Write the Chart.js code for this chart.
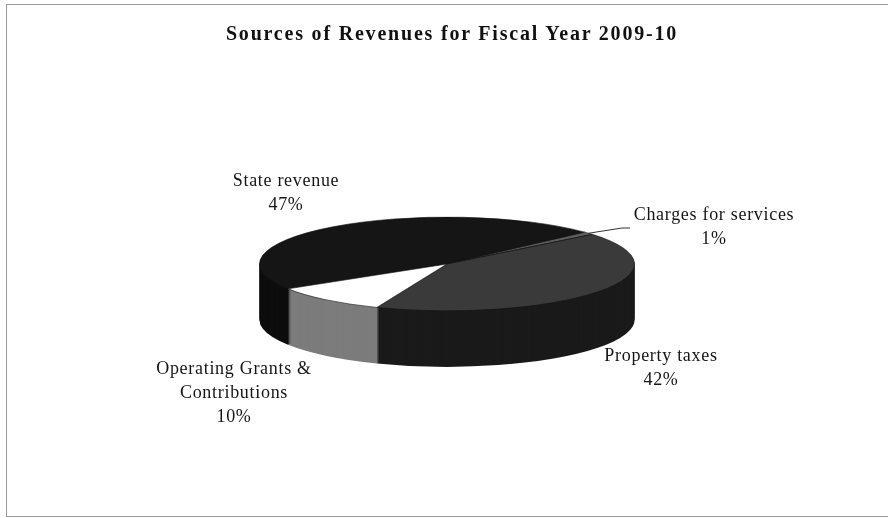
<!DOCTYPE html>
<html>
<head>
    <meta charset="UTF-8">
    <title>Sources of Revenues for Fiscal Year 2009-10</title>
    <script src="https://cdn.jsdelivr.net/npm/chart.js"></script>
    <style>
        body {
            margin: 0;
            background: #ffffff;
            font-family: 'Liberation Serif', 'DejaVu Serif', serif;
        }

        .wrap {
            position: relative;
            width: 888px;
            height: 518px;
            overflow: hidden;
        }

        /* scanned frame, right edge is cut off */
        .frame {
            position: absolute;
            left: 6px;
            top: 4px;
            width: 900px;
            height: 511px;
            border: 1px solid #9a9a9a;
        }

        canvas {
            position: absolute;
            left: 0;
            top: 0;
        }

        .title {
            position: absolute;
            left: 0;
            width: 904px;
            top: 22px;
            text-align: center;
            font-weight: bold;
            font-size: 20px;
            letter-spacing: 1.8px;
            color: #111;
        }

        .lbl {
            position: absolute;
            text-align: center;
            font-size: 18px;
            letter-spacing: 0.7px;
            line-height: 24px;
            color: #151515;
            white-space: nowrap;
            transform: translateX(-50%);
        }
    </style>
</head>
<body>
    <div class="wrap">
        <div class="frame"></div>
        <canvas id="revChart" width="888" height="518"></canvas>
        <div class="title">Sources of Revenues for Fiscal Year 2009-10</div>
        <div id="labels"></div>
    </div>

    <script>
        // data
        var categories = ['State revenue', 'Charges for services', 'Property taxes', 'Operating Grants &\nContributions'];
        var shares = [47, 1, 42, 10];
        var topColors = ['#151515', '#5c5c5c', '#3a3a3a', '#ffffff'];
        var sideColors = ['#0d0d0d', '#1e1e1e', '#1a1a1a', '#7c7c7c'];

        // label anchors (centre x, top y) for each slice
        var labelPos = [[286, 168], [714, 202], [661, 343], [234, 356]];

        var squash = 47 / 188;   // ellipse ratio of the tilted pie
        var depth = 56;          // thickness of the pie in px

        function tilt(ctx, cx, cy) {
            ctx.translate(cx, cy);
            ctx.scale(1, squash);
            ctx.translate(-cx, -cy);
        }

        var pie3d = {
            id: 'pie3d',
            beforeDatasetsDraw: function (chart) {
                var ctx = chart.ctx;
                var arcs = chart.getDatasetMeta(0).data;
                var cx = arcs[0].x, cy = arcs[0].y;
                // side wall: stack the slices downwards in darker colours
                for (var d = depth; d >= 1; d--) {
                    ctx.save();
                    ctx.translate(0, d);
                    tilt(ctx, cx, cy);
                    arcs.forEach(function (arc, i) {
                        var saved = arc.options;
                        arc.options = Object.assign({}, saved, {
                            backgroundColor: sideColors[i],
                            borderWidth: 0
                        });
                        arc.draw(ctx);
                        arc.options = saved;
                    });
                    ctx.restore();
                }
                ctx.save();
                tilt(ctx, cx, cy);
            },
            afterDatasetsDraw: function (chart) {
                var ctx = chart.ctx;
                ctx.restore();
                // leader line to the small "Charges for services" slice
                var arc = chart.getDatasetMeta(0).data[1];
                var mid = (arc.startAngle + arc.endAngle) / 2;
                var x0 = arc.x + Math.cos(mid) * arc.outerRadius;
                var y0 = arc.y + Math.sin(mid) * arc.outerRadius * squash;
                var lx = labelPos[1][0] - 84, ly = labelPos[1][1] + 26;
                ctx.save();
                ctx.strokeStyle = '#333';
                ctx.lineWidth = 1;
                ctx.beginPath();
                ctx.moveTo(x0, y0);
                ctx.lineTo(lx - 8, ly);
                ctx.lineTo(lx, ly);
                ctx.stroke();
                ctx.restore();
            }
        };

        var revCtx = document.getElementById('revChart').getContext('2d');
        var revChart = new Chart(revCtx, {
            type: 'pie',
            data: {
                labels: categories,
                datasets: [{
                    data: shares,
                    backgroundColor: topColors,
                    borderColor: '#111111',
                    borderWidth: 1,
                    clip: false
                }]
            },
            options: {
                responsive: false,
                animation: false,
                rotation: 238,
                layout: {
                    padding: { top: 76, bottom: 66, left: 200, right: 194 }
                },
                plugins: {
                    legend: { display: false },
                    tooltip: { enabled: false }
                }
            },
            plugins: [pie3d]
        });

        // category labels with percentages
        var holder = document.getElementById('labels');
        categories.forEach(function (name, i) {
            var div = document.createElement('div');
            div.className = 'lbl';
            div.style.left = labelPos[i][0] + 'px';
            div.style.top = labelPos[i][1] + 'px';
            div.innerHTML = name.replace('&', '&amp;').replace('\n', '<br>') + '<br>' + shares[i] + '%';
            holder.appendChild(div);
        });
    </script>
</body>
</html>
